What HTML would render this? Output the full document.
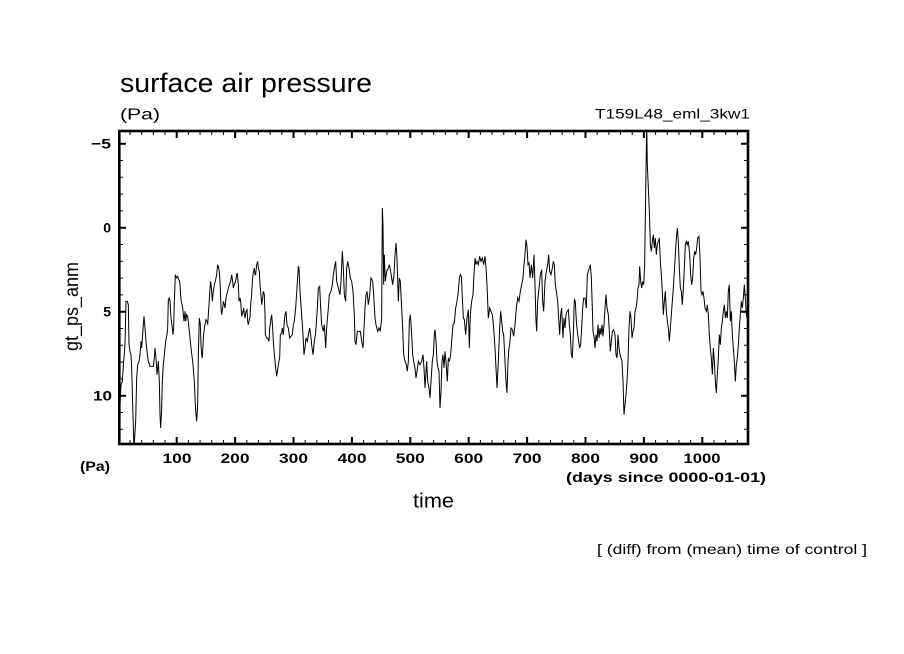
<!DOCTYPE html>
<html>
<head>
<meta charset="utf-8">
<style>
html,body{margin:0;padding:0;background:#fff;}
svg{display:block;}
text{font-family:"Liberation Sans",sans-serif;fill:#000;}
</style>
</head>
<body>
<svg width="904" height="654" viewBox="0 0 904 654" xmlns="http://www.w3.org/2000/svg">
<rect x="0" y="0" width="904" height="654" fill="#fff"/>
<defs>
<clipPath id="pc"><rect x="119" y="131" width="629" height="313"/></clipPath>
</defs>

<!-- data line -->
<g clip-path="url(#pc)">
<g transform="translate(115,128) scale(0.333333)">
<polyline fill="none" stroke="#000" stroke-width="1" vector-effect="non-scaling-stroke" stroke-linejoin="miter" points="
12,770 15,830 18,770 22,760 26,700 30,650 33,520 37,520 40,530 42,650 45,670 48,680 50,720 53,830 57,960 62,880 65,750 68,710 72,700 75,680 78,640 80,660 83,620 85,590 87,565 90,600 93,640 96,670 100,700 105,715 110,715 115,715 118,690 120,660 123,690 126,740 130,700 133,760 135,860 137,900 140,840 142,760 145,710 148,680 152,640 156,620 158,600 160,515 163,510 165,520 168,570 172,600 174,620 176,600 178,520 181,440 184,450 188,445 191,455 194,460 198,515 203,540 207,580 210,550 212,580 215,560 218,565 222,600 225,630 228,660 233,700 238,760 241,830 243,860 245,880 248,830 250,680 253,570 256,590 258,650 260,680 262,690 265,630 268,600 270,590 273,575 276,580 278,590 282,530 285,480 287,460 290,490 292,520 295,490 298,470 302,455 305,440 308,410 311,420 313,430 316,480 318,540 320,560 323,540 325,520 328,530 330,540 333,510 335,500 338,490 340,480 343,470 347,460 350,440 353,460 355,480 358,470 362,460 365,440 367,435 370,470 372,520 375,510 377,520 380,565 383,555 386,540 388,560 390,570 393,550 396,545 398,580 400,590 403,575 405,570 407,530 410,500 412,460 414,440 416,430 418,420 420,440 422,440 425,410 428,400 430,420 433,430 435,470 437,490 440,530 443,510 445,490 448,500 450,560 451,620 455,630 458,630 462,640 464,600 466,590 468,570 470,560 473,600 475,640 478,680
482,720 485,745 490,710 494,690 496,620 500,615 502,600 505,620 508,580 510,560 513,550 516,590 520,600 524,630 528,625 532,620 535,590 538,580 542,540 546,480 550,415 552,420 555,490 560,560 564,620 567,680 570,660 573,630 577,640 580,620 584,600 587,620 590,650 594,680 598,640 602,615 607,540 610,480 614,475 617,540 620,590 625,610 628,590 632,660 635,600 640,540 643,500 648,490 652,470 655,440 658,420 662,400 665,460 670,480 675,500 678,460 682,370 685,420 688,500 692,520 695,420 698,400 702,420 706,450 710,460 714,490 718,560 720,640 723,650 727,610 732,610 736,610 740,640 744,660 747,600 750,540 753,500 756,490 760,530 764,500 768,450 773,460 776,500 780,570 783,590 788,610 792,600 796,610 800,570 802,240 804,290 806,470 808,380 811,460 815,430 820,420 823,410 827,430 830,450 833,470 837,440 840,380 843,345 846,390 850,520 853,450 856,460 860,540 863,600 866,680 870,700 874,710 877,730 880,700 883,580 886,560 890,620 893,680 896,700 900,720 903,750 906,730 910,700 915,710 920,700 924,680 927,720 930,780 935,700 938,760 942,780 945,810 948,760 952,700 955,680 958,620
960,605 963,640 966,700 969,720 972,730 975,840 978,790 981,700 984,680 987,720 990,670 993,700 997,760 1000,690 1003,700 1007,680 1010,640 1014,590 1018,585 1022,540 1026,520 1030,490 1033,450 1036,440 1039,445 1042,510 1045,570 1048,575 1052,620 1056,570 1060,545 1063,660 1066,560 1070,520 1074,500 1077,440 1080,390 1083,410 1086,400 1090,410 1094,385 1098,400 1102,390 1106,410 1110,385 1113,420 1116,470 1120,570 1124,540 1128,550 1132,560 1136,600 1140,660 1143,720 1146,780 1150,700 1154,600 1157,550 1160,580 1163,610 1166,620 1170,700 1173,760 1176,795 1179,700 1182,660 1185,640 1188,600 1192,605 1196,625 1200,590 1204,540 1208,510 1212,520 1216,490 1220,470 1224,450 1227,410 1230,380 1233,335 1236,355 1239,410 1242,405 1245,450 1249,410 1253,450 1257,380 1260,470 1263,580 1265,610 1268,520 1272,480 1276,440 1280,425 1283,520 1286,550 1290,460 1294,430 1298,410 1301,380 1304,430 1308,440 1312,420 1315,400 1318,410 1321,470 1324,490 1328,520 1331,570 1334,620 1337,560 1340,540 1344,630 1347,570 1350,600 1353,560 1356,550 1360,545 1363,590 1366,620 1369,680 1372,690 1375,620 1378,515 1381,520 1384,580 1388,620 1391,640 1394,660 1397,650 1400,600 1403,540 1406,510 1410,510 1414,540 1417,440 1420,430 1423,420 1426,410 1429,450 1432,540 1434,610 1437,625
1440,660 1443,620 1446,640 1449,590 1452,630 1455,600 1458,620 1461,590 1464,625 1467,590 1470,540 1473,500 1476,540 1480,560 1483,610 1486,670 1489,640 1492,610 1496,605 1500,620 1503,680 1506,690 1509,620 1512,660 1515,680 1518,690 1521,700 1524,760 1527,860 1530,830 1533,800 1536,760 1539,700 1542,600 1545,550 1548,570 1551,630 1554,610 1557,600 1560,550 1563,540 1566,520 1569,480 1572,470 1574,415 1577,460 1580,480 1583,460 1586,470 1589,410 1592,200 1595,-10 1597,110 1600,180 1603,250 1606,350 1609,370 1612,340 1615,320 1618,360 1621,330 1624,380 1627,350 1630,340 1633,330 1636,400 1639,440 1642,490 1645,560 1648,520 1651,490 1654,550 1657,580 1660,600 1663,640 1666,600 1669,560 1672,520 1675,480 1678,430 1681,380 1684,330 1687,300 1690,340 1693,420 1696,480 1699,490 1702,530 1705,480 1708,420 1711,350 1714,340 1717,350 1720,340 1724,380 1727,440 1730,470 1733,450 1736,390 1739,370 1742,380 1745,360 1748,330 1752,325 1755,390 1758,490 1761,500 1764,490 1767,510 1770,540 1774,550 1777,530 1780,560 1783,620 1786,660 1789,690 1792,740 1795,660 1798,700 1801,760 1804,795 1807,740 1810,690 1813,620 1816,650 1819,600 1822,580 1825,550 1828,530 1831,570 1834,550 1837,570 1840,490 1843,470 1846,580 1849,550 1852,620 1855,660 1858,700 1861,760 1864,710 1867,690 1870,650 1873,600 1876,560 1879,520 1882,540 1885,510 1888,470 1891,510 1894,560 1896,570 1898,530 1900,500"/>
</g>
</g>

<!-- frame -->
<rect x="119.3" y="131" width="628.7" height="313" fill="none" stroke="#000" stroke-width="2.6"/>

<!-- x ticks (days) -->
<g transform="translate(118.3,0) scale(0.584,1)">
<path fill="none" stroke="#000" stroke-width="1" vector-effect="non-scaling-stroke" d="
M20 444v-4 M40 444v-4 M60 444v-4 M80 444v-4 M120 444v-4 M140 444v-4 M160 444v-4 M180 444v-4 M220 444v-4 M240 444v-4 M260 444v-4 M280 444v-4 M320 444v-4 M340 444v-4 M360 444v-4 M380 444v-4 M420 444v-4 M440 444v-4 M460 444v-4 M480 444v-4 M520 444v-4 M540 444v-4 M560 444v-4 M580 444v-4 M620 444v-4 M640 444v-4 M660 444v-4 M680 444v-4 M720 444v-4 M740 444v-4 M760 444v-4 M780 444v-4 M820 444v-4 M840 444v-4 M860 444v-4 M880 444v-4 M920 444v-4 M940 444v-4 M960 444v-4 M980 444v-4 M1020 444v-4 M1040 444v-4 M1060 444v-4
M20 131v4 M40 131v4 M60 131v4 M80 131v4 M120 131v4 M140 131v4 M160 131v4 M180 131v4 M220 131v4 M240 131v4 M260 131v4 M280 131v4 M320 131v4 M340 131v4 M360 131v4 M380 131v4 M420 131v4 M440 131v4 M460 131v4 M480 131v4 M520 131v4 M540 131v4 M560 131v4 M580 131v4 M620 131v4 M640 131v4 M660 131v4 M680 131v4 M720 131v4 M740 131v4 M760 131v4 M780 131v4 M820 131v4 M840 131v4 M860 131v4 M880 131v4 M920 131v4 M940 131v4 M960 131v4 M980 131v4 M1020 131v4 M1040 131v4 M1060 131v4"/>
<path fill="none" stroke="#000" stroke-width="2" vector-effect="non-scaling-stroke" d="
M100 444v-7 M200 444v-7 M300 444v-7 M400 444v-7 M500 444v-7 M600 444v-7 M700 444v-7 M800 444v-7 M900 444v-7 M1000 444v-7
M100 131v7 M200 131v7 M300 131v7 M400 131v7 M500 131v7 M600 131v7 M700 131v7 M800 131v7 M900 131v7 M1000 131v7"/>
</g>

<!-- y ticks -->
<path fill="none" stroke="#000" stroke-width="1" d="
M119 160.5h4 M119 177.3h4 M119 194.1h4 M119 210.9h4 M119 244.5h4 M119 261.3h4 M119 278.1h4 M119 294.9h4 M119 328.5h4 M119 345.3h4 M119 362.1h4 M119 378.9h4 M119 412.5h4 M119 429.3h4
M748 160.5h-4 M748 177.3h-4 M748 194.1h-4 M748 210.9h-4 M748 244.5h-4 M748 261.3h-4 M748 278.1h-4 M748 294.9h-4 M748 328.5h-4 M748 345.3h-4 M748 362.1h-4 M748 378.9h-4 M748 412.5h-4 M748 429.3h-4"/>
<path fill="none" stroke="#000" stroke-width="2" d="
M119 143.7h7 M119 227.7h7 M119 311.7h7 M119 395.7h7
M748 143.7h-7 M748 227.7h-7 M748 311.7h-7 M748 395.7h-7"/>

<!-- titles -->
<text x="120" y="92" font-size="27" textLength="252" lengthAdjust="spacingAndGlyphs">surface air pressure</text>
<text x="120" y="119.5" font-size="16" textLength="40" lengthAdjust="spacingAndGlyphs">(Pa)</text>
<text x="595" y="118.3" font-size="14" textLength="155" lengthAdjust="spacingAndGlyphs">T159L48_eml_3kw1</text>

<!-- y tick labels -->
<g font-size="14" font-weight="bold" text-anchor="end">
<text x="111" y="148.7" textLength="20" lengthAdjust="spacingAndGlyphs">−5</text>
<text x="111" y="232.7">0</text>
<text x="111" y="316.7">5</text>
<text x="112" y="400.7" textLength="19" lengthAdjust="spacingAndGlyphs">10</text>
</g>

<!-- x tick labels -->
<g font-size="14" font-weight="bold" text-anchor="middle">
<text x="177" y="463" textLength="29" lengthAdjust="spacingAndGlyphs">100</text>
<text x="235" y="463" textLength="29" lengthAdjust="spacingAndGlyphs">200</text>
<text x="293.5" y="463" textLength="29" lengthAdjust="spacingAndGlyphs">300</text>
<text x="352" y="463" textLength="29" lengthAdjust="spacingAndGlyphs">400</text>
<text x="410.3" y="463" textLength="29" lengthAdjust="spacingAndGlyphs">500</text>
<text x="468.7" y="463" textLength="29" lengthAdjust="spacingAndGlyphs">600</text>
<text x="527.1" y="463" textLength="29" lengthAdjust="spacingAndGlyphs">700</text>
<text x="585.5" y="463" textLength="29" lengthAdjust="spacingAndGlyphs">800</text>
<text x="643.9" y="463" textLength="29" lengthAdjust="spacingAndGlyphs">900</text>
<text x="702" y="463" textLength="37" lengthAdjust="spacingAndGlyphs">1000</text>
</g>

<text x="80" y="471" font-size="14" font-weight="bold" textLength="30" lengthAdjust="spacingAndGlyphs">(Pa)</text>
<text x="566" y="482" font-size="14" font-weight="bold" textLength="200" lengthAdjust="spacingAndGlyphs">(days since 0000-01-01)</text>
<text x="413" y="507.5" font-size="20" textLength="41" lengthAdjust="spacingAndGlyphs">time</text>
<text transform="translate(78,351) rotate(-90)" x="0" y="0" font-size="19" textLength="89" lengthAdjust="spacingAndGlyphs">gt_ps_anm</text>
<text x="597" y="554" font-size="14" textLength="270" lengthAdjust="spacingAndGlyphs">[ (diff) from (mean) time of control ]</text>
</svg>
</body>
</html>
